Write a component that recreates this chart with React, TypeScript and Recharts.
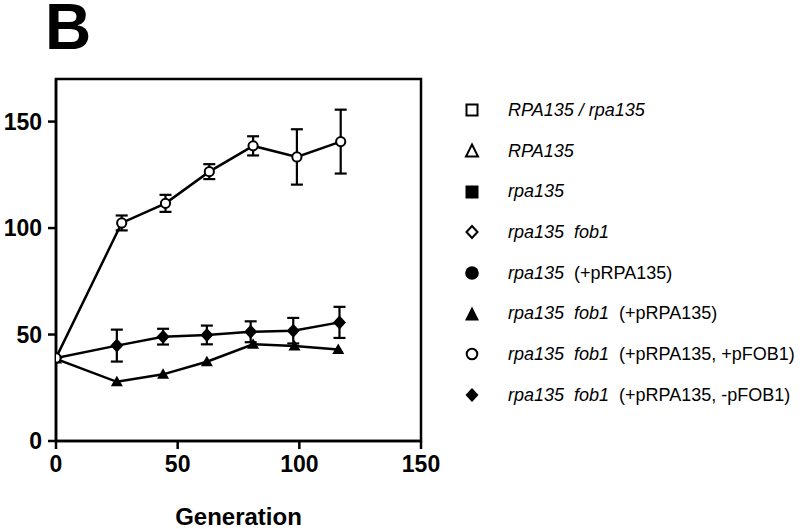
import React from 'react';
import { ComposedChart, Line, XAxis, YAxis, ErrorBar, ReferenceArea } from 'recharts';

const genCircle = [0, 27, 45, 63, 81, 99, 117];
const valCircle = [39, 102.4, 111.6, 126.5, 138.6, 133.4, 140.6];
const errCircle = [0, 3.5, 4, 3.5, 4.5, 13, 15];

const genDiamond = [0, 25, 44, 62, 80, 97.5, 116.5];
const valDiamond = [39, 44.8, 49, 49.8, 51.3, 51.8, 55.7];
const errDiamond = [0, 7.5, 3.7, 4.4, 4.9, 6, 7.3];

const genTriangle = [0, 25, 44, 62, 81, 98, 116];
const valTriangle = [38.5, 27.8, 31.3, 37.2, 45.4, 44.6, 43];

const xTicks = [0, 50, 100, 150];
const yTicks = [0, 50, 100, 150];

const legendNames = [
  ['RPA135 / rpa135', ''],
  ['RPA135', ''],
  ['rpa135', ''],
  ['rpa135  fob1', ''],
  ['rpa135', '  (+pRPA135)'],
  ['rpa135  fob1', '  (+pRPA135)'],
  ['rpa135  fob1', '  (+pRPA135, +pFOB1)'],
  ['rpa135  fob1', '  (+pRPA135, -pFOB1)'],
];
const legendShapes = ['squareOpen', 'triangleOpen', 'squareFilled', 'diamondOpen', 'circleFilled', 'triangleFilled', 'circleOpen', 'diamondFilled'];

const build = (xs: number[], ys: number[], es?: number[]) =>
  xs.map((x, i) => ({ x, y: ys[i], e: es ? es[i] : 0 }));

const circleData = build(genCircle, valCircle, errCircle);
const diamondData = build(genDiamond, valDiamond, errDiamond);
const triangleData = build(genTriangle, valTriangle);

const FONT = '"Liberation Sans", Arial, Helvetica, sans-serif';

const CircleDot = (p: any) => (
  <circle key={p.key} cx={p.cx} cy={p.cy} r={4.6} fill="#fff" stroke="#000" strokeWidth={2} />
);
const DiamondDot = (p: any) => (
  <path key={p.key} d={`M${p.cx},${p.cy - 7} L${p.cx + 6.5},${p.cy} L${p.cx},${p.cy + 7} L${p.cx - 6.5},${p.cy} Z`} fill="#000" />
);
const TriangleDot = (p: any) => (
  <path key={p.key} d={`M${p.cx},${p.cy - 6} L${p.cx + 6},${p.cy + 4.5} L${p.cx - 6},${p.cy + 4.5} Z`} fill="#000" />
);

const LegendIcon = ({ shape }: { shape: string }) => {
  const c = 10;
  let el: any = null;
  switch (shape) {
    case 'squareOpen':
      el = <rect x={4.5} y={4.5} width={11} height={11} fill="#fff" stroke="#000" strokeWidth={2} />;
      break;
    case 'squareFilled':
      el = <rect x={3.5} y={3.5} width={13} height={13} fill="#000" />;
      break;
    case 'triangleOpen':
      el = <path d="M10,3.5 L16,15.5 L4,15.5 Z" fill="#fff" stroke="#000" strokeWidth={2} strokeLinejoin="miter" />;
      break;
    case 'triangleFilled':
      el = <path d="M10,2.5 L17,16.5 L3,16.5 Z" fill="#000" />;
      break;
    case 'diamondOpen':
      el = <path d="M10,4 L15.5,10 L10,16 L4.5,10 Z" fill="#fff" stroke="#000" strokeWidth={2} />;
      break;
    case 'diamondFilled':
      el = <path d="M10,3 L16.5,10 L10,17 L3.5,10 Z" fill="#000" />;
      break;
    case 'circleFilled':
      el = <circle cx={c} cy={c} r={6.8} fill="#000" />;
      break;
    case 'circleOpen':
      el = <circle cx={c} cy={c} r={5.3} fill="#fff" stroke="#000" strokeWidth={2} />;
      break;
  }
  return (
    <svg width={20} height={20} style={{ display: 'block', flex: '0 0 20px' }}>
      {el}
    </svg>
  );
};

const CustomLegend = () => (
  <div style={{ fontFamily: FONT, fontSize: 18, color: '#000', position: 'absolute', left: 462, top: 90, width: 338 }}>
    {legendNames.map((n, i) => (
      <div key={i} style={{ display: 'flex', alignItems: 'center', height: 40.7 }}>
        <LegendIcon shape={legendShapes[i]} />
        <span style={{ marginLeft: 26, whiteSpace: 'pre' }}>
          <i>{n[0]}</i>
          {n[1]}
        </span>
      </div>
    ))}
  </div>
);

export default function App() {
  return (
    <div style={{ position: 'absolute', left: 0, top: 0, width: 800, height: 529, background: '#fff' }}>
      <svg width={120} height={70} style={{ position: 'absolute', left: 0, top: 0 }}>
        <text x={45} y={49} fontFamily={FONT} fontWeight="bold" fontSize={64} fill="#000">B</text>
      </svg>
      <div style={{ position: 'absolute', left: 0, top: 0 }}>
        <ComposedChart
          width={800}
          height={529}
          margin={{ top: 79, right: 379, bottom: 0, left: 0 }}
        >
          <XAxis
            type="number"
            dataKey="x"
            domain={[0, 150]}
            ticks={xTicks}
            allowDataOverflow
            height={88}
            tickSize={8}
            tickMargin={7}
            axisLine={{ stroke: '#000', strokeWidth: 2.5 }}
            tickLine={{ stroke: '#000', strokeWidth: 2.5 }}
            tick={{ fill: '#000', fontSize: 23, fontWeight: 'bold', fontFamily: FONT }}
            label={{ value: 'Generation', position: 'insideBottom', offset: 4, fill: '#000', fontSize: 24, fontWeight: 'bold', fontFamily: FONT }}
          />
          <YAxis
            type="number"
            domain={[0, 170]}
            ticks={yTicks}
            allowDataOverflow
            width={56}
            tickSize={8}
            tickMargin={6}
            axisLine={{ stroke: '#000', strokeWidth: 2.5 }}
            tickLine={{ stroke: '#000', strokeWidth: 2.5 }}
            tick={{ fill: '#000', fontSize: 23, fontWeight: 'bold', fontFamily: FONT }}
          />
          <ReferenceArea x1={0} x2={150} y1={0} y2={170} fill="none" fillOpacity={0} stroke="#000" strokeWidth={2.5} ifOverflow="visible" />
          <Line
            data={triangleData}
            dataKey="y"
            stroke="#000"
            strokeWidth={2.5}
            isAnimationActive={false}
            dot={TriangleDot}
            activeDot={false}
            legendType="none"
          />
          <Line
            data={diamondData}
            dataKey="y"
            stroke="#000"
            strokeWidth={2.5}
            isAnimationActive={false}
            dot={DiamondDot}
            activeDot={false}
            legendType="none"
          >
            <ErrorBar dataKey="e" direction="y" width={6} stroke="#000" strokeWidth={2.2} isAnimationActive={false} />
          </Line>
          <Line
            data={circleData}
            dataKey="y"
            stroke="#000"
            strokeWidth={2.5}
            isAnimationActive={false}
            dot={CircleDot}
            activeDot={false}
            legendType="none"
          >
            <ErrorBar dataKey="e" direction="y" width={6} stroke="#000" strokeWidth={2.2} isAnimationActive={false} />
          </Line>
        </ComposedChart>
      </div>
      <CustomLegend />
    </div>
  );
}
